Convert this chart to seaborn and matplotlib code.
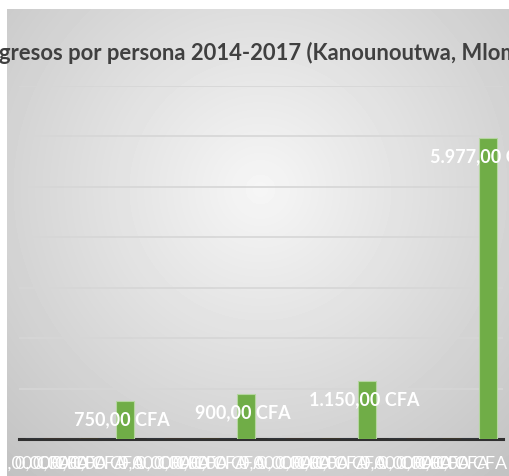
import numpy as np
import pandas as pd
import matplotlib.pyplot as plt
import seaborn as sns

# datos
anios = ["2014", "2015", "2016", "2017"]
series = ["Serie 1", "Serie 2", "Serie 3", "Serie 4", "Serie 5", "Serie 6"]
serie1 = [0, 0, 0, 0]
serie2 = [0, 0, 0, 0]
serie3 = [0, 0, 0, 0]
serie4 = [0, 0, 0, 0]
serie5 = [0, 0, 0, 0]
serie6 = [750, 900, 1150, 5977]
colores = ["#5B9BD5", "#ED7D31", "#A5A5A5", "#FFC000", "#5B9BD5", "#70AD47"]

titulo = "Ingresos por persona 2014-2017 (Kanounoutwa, Mlomp)"

filas = []
for s, vals in zip(series, [serie1, serie2, serie3, serie4, serie5, serie6]):
    for a, v in zip(anios, vals):
        filas.append({"anio": a, "serie": s, "valor": v})
df = pd.DataFrame(filas)

sns.set_style("white")
plt.rcParams['font.family'] = ['Lato', 'DejaVu Sans']

W, H = 510, 477
fig = plt.figure(figsize=(W / 100, H / 100), dpi=100)
fig.patch.set_facecolor("white")

# fondo con degradado radial
bg = fig.add_axes([7 / W, 0, 1 - 7 / W, 1 - 10 / H])
bw, bh = W - 7, H - 10
xx, yy = np.meshgrid(np.arange(bw), np.arange(bh))
r = np.sqrt((xx - 253) ** 2 + (yy - 180) ** 2)
grad = 0.965 - 0.21 * r / 390
bg.imshow(grad, cmap="gray", vmin=0, vmax=1, aspect="auto", interpolation="bilinear")
bg.axis("off")

ax = fig.add_axes([19 / W, 1 - 440 / H, (503 - 19) / W, (440 - 87) / H])
ax.set_facecolor("none")

sns.barplot(data=df, x="anio", y="valor", hue="serie", palette=colores,
            saturation=1, width=0.9, ax=ax, legend=False, zorder=3)

ax.set_ylim(0, 7000)
ax.set_yticks(np.arange(0, 7001, 1000))
ax.yaxis.grid(True, color="#d6d6d6", linewidth=1.2)
ax.set_axisbelow(True)
ax.set_yticklabels([])
ax.set_xticklabels([])
ax.tick_params(length=0)
ax.set_xlabel("")
ax.set_ylabel("")
for lado in ["top", "left", "right"]:
    ax.spines[lado].set_visible(False)
ax.spines["bottom"].set_color("#303030")
ax.spines["bottom"].set_linewidth(2.2)
ax.spines["bottom"].set_zorder(2)

for i, cont in enumerate(ax.containers):
    for p in cont.patches:
        h = p.get_height()
        xc = p.get_x() + p.get_width() / 2
        if h > 0:
            p.set_edgecolor("#b5d6a0")
            p.set_linewidth(0.8)
            ax.annotate(f"{h:,.2f} CFA".replace(",", "X").replace(".", ",").replace("X", "."),
                        xy=(xc, h), xytext=(-2, -13), textcoords="offset points",
                        ha="center", va="center", color="white", fontsize=13,
                        fontweight="bold", zorder=5)
        else:
            p.set_edgecolor(colores[i])
            p.set_linewidth(0.8)
            ax.annotate("0,00 CFA", xy=(xc, 0), xytext=(0, -17),
                        textcoords="offset points", ha="center", va="center",
                        color="white", fontsize=13, zorder=5, annotation_clip=False)

fig.text(-20 / W, 1 - 53 / H, titulo, ha="left", va="center", fontsize=15.8,
         fontweight="bold", color="#404040")

fig.savefig("out.png", dpi=100)
